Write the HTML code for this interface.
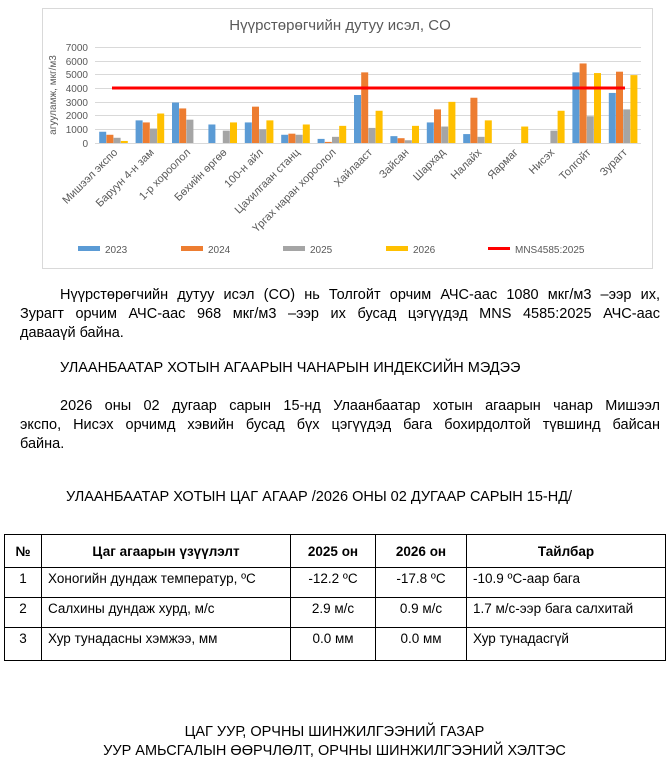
<!DOCTYPE html>
<html><head><meta charset="utf-8"><style>
body{margin:0;width:669px;height:780px;background:#fff;font-family:"Liberation Sans",Arial,sans-serif;color:#000;position:relative;overflow:hidden}
.l{position:absolute;font-size:14.5px;line-height:19px;text-align:justify;text-align-last:justify;white-space:nowrap}
.p{position:absolute;font-size:14.5px;line-height:19px;white-space:nowrap}
.c{position:absolute;left:0;width:669px;text-align:center;font-size:14.5px}
table{position:absolute;left:4px;top:534px;border-collapse:collapse;font-family:"Liberation Sans Narrow","Liberation Sans",sans-serif;font-size:13.5px}
td,th{border:1px solid #000;padding:0 6px;height:26px;vertical-align:top;padding-top:3px}
th{height:32px;vertical-align:middle;padding-top:0}
</style></head><body>
<svg width="669" height="280" style="position:absolute;left:0;top:0" font-family="Liberation Sans,sans-serif">
<rect x="42.5" y="8.5" width="610" height="260" fill="#fff" stroke="#d9d9d9"/>
<text x="340" y="30" text-anchor="middle" font-size="15" fill="#595959">Нүүрстөрөгчийн дутуу исэл, CO</text>
<g stroke="#d9d9d9" stroke-width="1">
<line x1="95" x2="641" y1="47.5" y2="47.5"/><line x1="95" x2="641" y1="61.5" y2="61.5"/><line x1="95" x2="641" y1="74.5" y2="74.5"/><line x1="95" x2="641" y1="88.5" y2="88.5"/><line x1="95" x2="641" y1="102.5" y2="102.5"/><line x1="95" x2="641" y1="115.5" y2="115.5"/><line x1="95" x2="641" y1="129.5" y2="129.5"/><line x1="95" x2="641" y1="143.5" y2="143.5"/>
</g>
<g font-size="10" fill="#595959" text-anchor="end">
<text x="88" y="51">7000</text><text x="88" y="65">6000</text><text x="88" y="78">5000</text><text x="88" y="92">4000</text><text x="88" y="106">3000</text><text x="88" y="119">2000</text><text x="88" y="133">1000</text><text x="88" y="147">0</text>
</g>
<text transform="translate(56,95) rotate(-90)" text-anchor="middle" font-size="10" fill="#595959">агууламж, мкг/м3</text>
<g id="bars"></g>
<line x1="112" x2="625" y1="88" y2="88" stroke="#f00" stroke-width="3"/>
<g id="labs" font-size="11" fill="#595959" text-anchor="end"></g>
<g font-size="10" fill="#595959">
<rect x="78" y="246" width="22" height="5" fill="#5b9bd5"/><text x="105" y="253">2023</text>
<rect x="181" y="246" width="22" height="5" fill="#ed7d31"/><text x="208" y="253">2024</text>
<rect x="283" y="246" width="22" height="5" fill="#a5a5a5"/><text x="310" y="253">2025</text>
<rect x="386" y="246" width="22" height="5" fill="#ffc000"/><text x="413" y="253">2026</text>
<rect x="488" y="247" width="22" height="3" fill="#f00"/><text x="515" y="253">MNS4585:2025</text>
</g>
</svg>
<script>
var d=[[820,600,380,150],[1650,1500,1050,2150],[2950,2520,1700,0],[1350,0,900,1500],[1500,2650,1000,1650],[600,680,600,1350],[300,80,450,1250],[3500,5150,1100,2350],[500,350,200,1250],[1500,2450,1200,3000],[650,3300,450,1650],[0,0,0,1200],[0,0,900,2350],[5150,5800,1950,5100],[3650,5200,2450,4950]];
var n=["Мишээл экспо","Баруун 4-н зам","1-р хороолол","Бөхийн өргөө","100-н айл","Цахилгаан станц","Үргах наран хороолол","Хайлааст","Зайсан","Шархад","Налайх","Яармаг","Нисэх","Толгойт","Зурагт"];
var c=["#5b9bd5","#ed7d31","#a5a5a5","#ffc000"],s="",l="",w=546/15;
for(var i=0;i<15;i++){var cx=95+w*(i+.5);for(var j=0;j<4;j++){var h=d[i][j]*96/7000;if(h>0)s+='<rect x="'+(cx-14+j*7.2)+'" y="'+(143-h)+'" width="7" height="'+h+'" fill="'+c[j]+'"/>';}
l+='<text transform="translate('+(cx+5)+',153) rotate(-45)">'+n[i]+'</text>';}
document.getElementById("bars").innerHTML=s;document.getElementById("labs").innerHTML=l;
</script>
<div class="l" style="left:60px;top:286px;width:600px">Нүүрстөрөгчийн дутуу исэл (CO) нь Толгойт орчим АЧС-аас 1080 мкг/м3 –ээр их,</div>
<div class="l" style="left:20px;top:305px;width:640px">Зурагт орчим АЧС-аас 968 мкг/м3 –ээр их бусад цэгүүдэд MNS 4585:2025 АЧС-аас</div>
<div class="p" style="left:20px;top:324px">давааүй байна.</div>
<div class="p" style="left:60px;top:359px">УЛААНБААТАР ХОТЫН АГААРЫН ЧАНАРЫН ИНДЕКСИЙН МЭДЭЭ</div>
<div class="l" style="left:60px;top:397px;width:600px">2026 оны 02 дугаар сарын 15-нд Улаанбаатар хотын агаарын чанар Мишээл</div>
<div class="l" style="left:20px;top:416px;width:640px">экспо, Нисэх орчимд хэвийн бусад бүх цэгүүдэд бага бохирдолтой түвшинд байсан</div>
<div class="p" style="left:20px;top:435px">байна.</div>
<div class="p" style="left:66px;top:488px">УЛААНБААТАР ХОТЫН ЦАГ АГААР /2026 ОНЫ 02 ДУГААР САРЫН 15-НД/</div>
<table>
<tr><th style="width:24px">№</th><th style="width:236px">Цаг агаарын үзүүлэлт</th><th style="width:72px">2025 он</th><th style="width:78px">2026 он</th><th style="width:186px">Тайлбар</th></tr>
<tr><td style="text-align:center">1</td><td>Хоногийн дундаж температур, ºC</td><td style="text-align:center">-12.2 ºC</td><td style="text-align:center">-17.8 ºC</td><td>-10.9 ºC-аар бага</td></tr>
<tr><td style="text-align:center">2</td><td>Салхины дундаж хурд, м/с</td><td style="text-align:center">2.9 м/с</td><td style="text-align:center">0.9 м/с</td><td>1.7 м/с-ээр бага салхитай</td></tr>
<tr><td style="text-align:center;height:29px">3</td><td>Хур тунадасны хэмжээ, мм</td><td style="text-align:center">0.0 мм</td><td style="text-align:center">0.0 мм</td><td>Хур тунадасгүй</td></tr>
</table>
<div class="c" style="top:724px">ЦАГ УУР, ОРЧНЫ ШИНЖИЛГЭЭНИЙ ГАЗАР</div>
<div class="c" style="top:743px">УУР АМЬСГАЛЫН ӨӨРЧЛӨЛТ, ОРЧНЫ ШИНЖИЛГЭЭНИЙ ХЭЛТЭС</div>
</body></html>
